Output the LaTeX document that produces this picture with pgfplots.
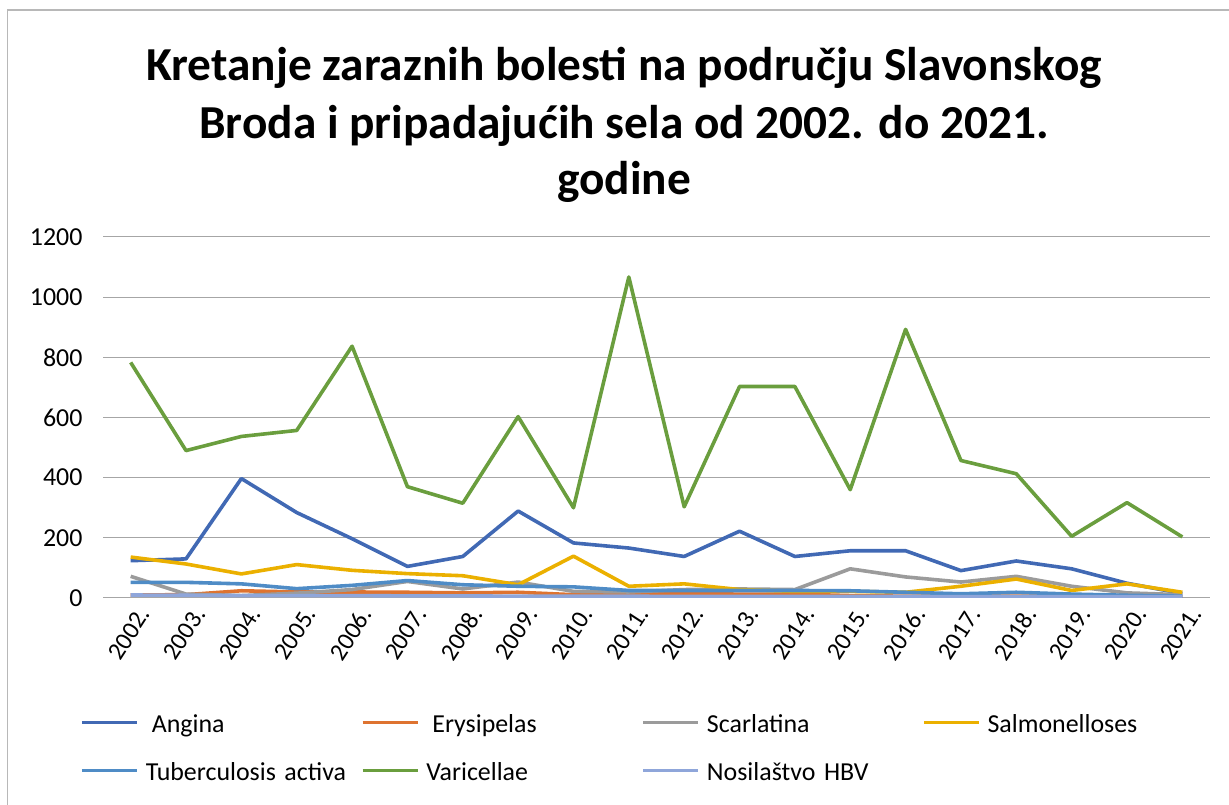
\documentclass[border=0pt]{standalone}
\usepackage{fontspec}
\setmainfont{Carlito}
\usepackage{pgfplots}
\pgfplotsset{compat=1.18}
\definecolor{cAng}{HTML}{4169B4}
\definecolor{cEry}{HTML}{DE7330}
\definecolor{cSca}{HTML}{9B9B9B}
\definecolor{cSal}{HTML}{EBB000}
\definecolor{cTub}{HTML}{4F8CC6}
\definecolor{cVar}{HTML}{6A9E3E}
\definecolor{cHBV}{HTML}{8FA6DA}
\definecolor{cGrid}{HTML}{A6A6A6}
\begin{document}
\begin{tikzpicture}[x=1bp,y=1bp]
\useasboundingbox (0,0) rectangle (1229,805);
\draw[cGrid!80, line width=1.5bp] (7.5,-10) -- (7.5,795) -- (1240,795);
\begin{scope}[every node/.style={font=\fontsize{47.5}{57}\selectfont\bfseries, anchor=base, inner sep=0pt}]
\node at (624,724) {Kretanje zaraznih bolesti na području Slavonskog};
\node at (624,666) {Broda i pripadajućih sela od 2002. do 2021.};
\node at (624,610) {godine};
\end{scope}
\begin{axis}[
  at={(103bp,207bp)}, anchor=south west,
  scale only axis, width=1107bp, height=361bp,
  xmin=-0.5, xmax=19.5, ymin=0, ymax=1200,
  xtick={0,...,19},
  xticklabels={2002.,2003.,2004.,2005.,2006.,2007.,2008.,2009.,2010.,2011.,2012.,2013.,2014.,2015.,2016.,2017.,2018.,2019.,2020.,2021.},
  ytick={0,200,...,1200},
  ymajorgrids, grid style={cGrid, line width=1bp},
  axis line style={draw=none},
  tick style={draw=none},
  /pgf/number format/assume math mode=true,
  /pgf/number format/1000 sep={},
  yticklabel style={font=\fontsize{26}{30}\selectfont, anchor=east, xshift=-17bp},
  xticklabel style={font=\fontsize{25}{29}\selectfont, xshift=7bp, yshift=-7bp, rotate=57, anchor=north east, inner sep=0pt},
  every axis plot/.append style={line width=3.6bp, no markers, line join=round},
  legend columns=4,
  legend cell align=left,
  legend style={at={(axis description cs:-0.0208,-0.318)}, anchor=north west, draw=none, fill=none, inner sep=0pt,
    font=\fontsize{26}{30}\selectfont,
    nodes={text width=205bp, text height=18bp, text depth=5bp, inner xsep=0bp, inner ysep=2bp},
    row sep=21bp,
    /tikz/every odd column/.append style={column sep=7bp},
    /tikz/every even column/.append style={column sep=10bp}},
  legend image code/.code={\draw[#1, line width=3.6bp] (0bp,0.42em) -- (55bp,0.42em);},
]
\addplot[cAng] coordinates {(0,124)(1,130)(2,397)(3,284)(4,197)(5,105)(6,138)(7,289)(8,183)(9,166)(10,138)(11,222)(12,138)(13,157)(14,157)(15,91)(16,123)(17,97)(18,49)(19,15)};
\addlegendentry{\hspace{6bp}Angina}
\addplot[cEry] coordinates {(0,10)(1,11)(2,24)(3,20)(4,20)(5,19)(6,17)(7,19)(8,11)(9,14)(10,14)(11,13)(12,13)(13,8)(14,6)(15,6)(16,6)(17,5)(18,5)(19,5)};
\addlegendentry{\hspace{6bp}Erysipelas}
\addplot[cSca] coordinates {(0,72)(1,13)(2,8)(3,16)(4,28)(5,55)(6,30)(7,53)(8,22)(9,20)(10,28)(11,30)(12,28)(13,97)(14,70)(15,53)(16,72)(17,39)(18,17)(19,11)};
\addlegendentry{Scarlatina}
\addplot[cSal] coordinates {(0,136)(1,113)(2,80)(3,111)(4,92)(5,81)(6,74)(7,44)(8,139)(9,39)(10,47)(11,28)(12,22)(13,22)(14,19)(15,39)(16,63)(17,25)(18,47)(19,19)};
\addlegendentry{Salmonelloses}
\addplot[cTub] coordinates {(0,52)(1,52)(2,47)(3,31)(4,42)(5,58)(6,44)(7,39)(8,37)(9,25)(10,25)(11,25)(12,25)(13,24)(14,19)(15,14)(16,19)(17,13)(18,9)(19,6)};
\addlegendentry{Tuberculosis activa}
\addplot[cVar] coordinates {(0,783)(1,490)(2,537)(3,557)(4,837)(5,370)(6,315)(7,603)(8,300)(9,1067)(10,303)(11,703)(12,703)(13,360)(14,893)(15,457)(16,413)(17,205)(18,317)(19,203)};
\addlegendentry{Varicellae}
\addplot[cHBV] coordinates {(0,10)(1,9)(2,8)(3,8)(4,8)(5,7)(6,7)(7,6)(8,6)(9,6)(10,5)(11,5)(12,5)(13,5)(14,5)(15,4)(16,4)(17,4)(18,4)(19,4)};
\addlegendentry{Nosilaštvo HBV}
\end{axis}
\end{tikzpicture}
\end{document}
